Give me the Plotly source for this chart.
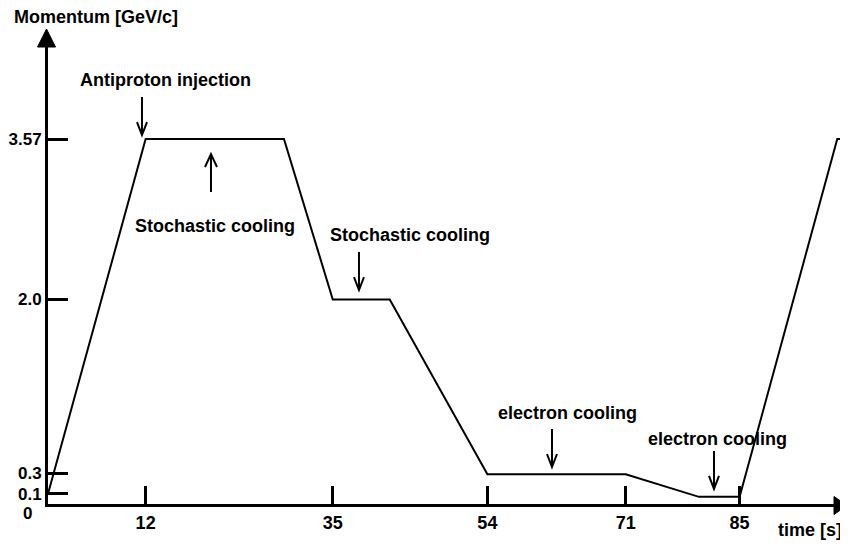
import plotly.graph_objects as go

# ---- data (schematic machine cycle) ----
time_s = [0, 12, 29, 35, 42, 54, 71, 80, 85, 97, 99]
momentum = [0.1, 3.57, 3.57, 2.0, 2.0, 0.29, 0.29, 0.07, 0.07, 3.57, 3.57]

x_ticks = [12, 35, 54, 71, 85]
y_ticks = [0.1, 0.3, 2.0, 3.57]
y_tick_text = ["0.1", "0.3", "2.0", "3.57"]

# annotation labels: (text, time, momentum)
labels = [
    ("Antiproton injection", 14.38, 4.147),
    ("Stochastic cooling", 20.52, 2.719),
    ("Stochastic cooling", 44.49, 2.631),
    ("electron cooling", 63.9, 0.89),
    ("electron cooling", 82.22, 0.636),
]
# arrow tips: (time, momentum, direction)
arrows = [
    (11.55, 3.609, "down"),
    (20.03, 3.423, "up"),
    (38.22, 2.093, "down"),
    (61.94, 0.362, "down"),
    (81.85, 0.147, "down"),
]

FONT = "Liberation Sans, Arial, Helvetica, sans-serif"

fig = go.Figure()
fig.add_trace(go.Scatter(x=time_s, y=momentum, mode="lines",
                         line=dict(color="black", width=2), hoverinfo="skip"))

annotations = []
for text, x, y in labels:
    annotations.append(dict(text=text, x=x, y=y, xref="x", yref="y", showarrow=False,
                            xanchor="center", yanchor="middle",
                            font=dict(family=FONT, size=18, color="black", weight="bold")))
annotations.append(dict(text="Momentum [GeV/c]", xref="paper", yref="paper",
                        x=-0.045, y=1.0656, xanchor="left", yanchor="middle", showarrow=False,
                        font=dict(family=FONT, size=18, color="black", weight="bold")))
annotations.append(dict(text="time [s]", xref="paper", yref="paper",
                        x=0.995, y=-0.0569, xanchor="right", yanchor="middle", showarrow=False,
                        font=dict(family=FONT, size=18, color="black", weight="bold")))
annotations.append(dict(text="0", xref="paper", yref="paper",
                        x=-0.0175, y=-0.02, xanchor="right", yanchor="middle", showarrow=False,
                        font=dict(family=FONT, size=17, color="black", weight="bold")))

shapes = []
for x, y, d in arrows:
    if d == "down":
        path = "M0,0 L0,38 M-5,13 L0,0 L5,13"
    else:
        path = "M0,0 L0,-38 M-6,-13 L0,0 L6,-13"
    shapes.append(dict(type="path", xref="x", yref="y", xsizemode="pixel", ysizemode="pixel",
                       xanchor=x, yanchor=y, path=path, line=dict(color="black", width=2)))
# axis arrowheads
shapes.append(dict(type="path", xref="paper", yref="paper", xsizemode="pixel", ysizemode="pixel",
                   xanchor=0, yanchor=1, path="M-10.5,0 L7.5,0 L-1.5,18 Z",
                   fillcolor="black", line=dict(color="black", width=1), layer="above"))
shapes.append(dict(type="path", xref="paper", yref="paper", xsizemode="pixel", ysizemode="pixel",
                   xanchor=1, yanchor=0, path="M-14,-10.5 L-14,7.5 L-1,-1.5 Z",
                   fillcolor="black", line=dict(color="black", width=1), layer="above"))

fig.update_layout(
    width=840, height=538,
    margin=dict(l=40, r=0, t=39, b=42, autoexpand=False),
    paper_bgcolor="white", plot_bgcolor="white",
    showlegend=False,
    annotations=annotations, shapes=shapes,
    xaxis=dict(range=[0, 98.32], tickvals=x_ticks, ticks="inside", ticklen=18, tickwidth=3,
               tickcolor="black", showline=True, linewidth=3, linecolor="black",
               showgrid=False, zeroline=False, automargin=False,
               tickfont=dict(family=FONT, size=18, color="black", weight="bold")),
    yaxis=dict(range=[0, 4.47], tickvals=y_ticks, ticktext=y_tick_text, ticks="inside",
               ticklen=20, tickwidth=3, tickcolor="black", showline=True, linewidth=3,
               linecolor="black", showgrid=False, zeroline=False, automargin=False,
               tickfont=dict(family=FONT, size=17, color="black", weight="bold")),
)

fig.write_html("out.html")
